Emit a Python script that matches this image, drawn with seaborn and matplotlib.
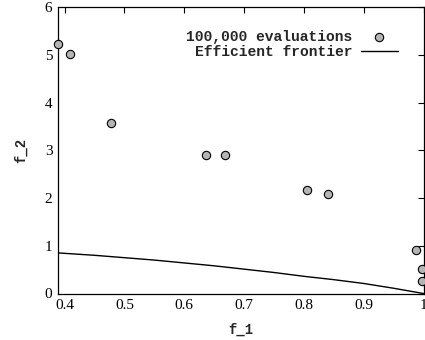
import numpy as np
import pandas as pd
import matplotlib
matplotlib.use("Agg")
import matplotlib.pyplot as plt
import seaborn as sns

# Data
eval_f1 = [0.389, 0.409, 0.477, 0.637, 0.668, 0.805, 0.840, 0.988, 0.998, 0.998]
eval_f2 = [5.22, 5.01, 3.57, 2.91, 2.90, 2.16, 2.09, 0.91, 0.51, 0.26]
front_f1 = [0.389, 0.45, 0.5, 0.55, 0.6, 0.65, 0.7, 0.75, 0.8, 0.85, 0.9, 0.95, 1.0]
front_f2 = [0.85, 0.80, 0.75, 0.70, 0.64, 0.58, 0.51, 0.44, 0.36, 0.29, 0.21, 0.11, 0.0]
x_ticks = [0.4, 0.5, 0.6, 0.7, 0.8, 0.9, 1.0]
x_tick_labels = ["0.4", "0.5", "0.6", "0.7", "0.8", "0.9", "1"]
y_ticks = [0, 1, 2, 3, 4, 5, 6]

sns.set_theme(style="white")
plt.rcParams["font.family"] = ["Liberation Serif", "DejaVu Serif"]

pts = pd.DataFrame({"f_1": eval_f1, "f_2": eval_f2})
fr = pd.DataFrame({"f_1": front_f1, "f_2": front_f2})

fig = plt.figure(figsize=(4.25, 3.4), dpi=100)
ax = fig.add_axes([58 / 425, 1 - 293.5 / 340, (423.5 - 58) / 425, (293.5 - 7) / 340])

sns.scatterplot(data=pts, x="f_1", y="f_2", ax=ax, color="#b4b4b4", edgecolor="black",
                linewidth=0.8, s=36, label="100,000 evaluations", zorder=3, clip_on=False)
sns.lineplot(data=fr, x="f_1", y="f_2", ax=ax, color="black", linewidth=1.0,
             label="Efficient frontier", zorder=2)

ax.set_xlim(0.389, 1.0)
ax.set_ylim(0, 6)
ax.set_xticks(x_ticks)
ax.set_xticklabels(x_tick_labels)
ax.set_yticks(y_ticks)
ax.tick_params(direction="in", length=4, width=0.8, top=True, right=True,
               labelsize=11, colors="black", pad=4)
for sp in ax.spines.values():
    sp.set_color("black")
    sp.set_linewidth(0.9)

mono = {"family": ["Liberation Mono", "DejaVu Sans Mono"], "weight": "bold", "size": 10}
ax.set_xlabel("f_1", fontdict=mono, labelpad=8)
ax.set_ylabel("f_2", fontdict=mono, labelpad=12)

leg = ax.legend(loc="upper right", frameon=False, markerfirst=False,
                prop={"family": ["Liberation Mono", "DejaVu Sans Mono"], "weight": "bold", "size": 10.5},
                handlelength=2.5, borderaxespad=0.8, labelspacing=0.05, handletextpad=0.6,
                bbox_to_anchor=(0.977, 0.98))
for t in leg.get_texts():
    t.set_ha("right")

fig.savefig("out.png", dpi=100)
